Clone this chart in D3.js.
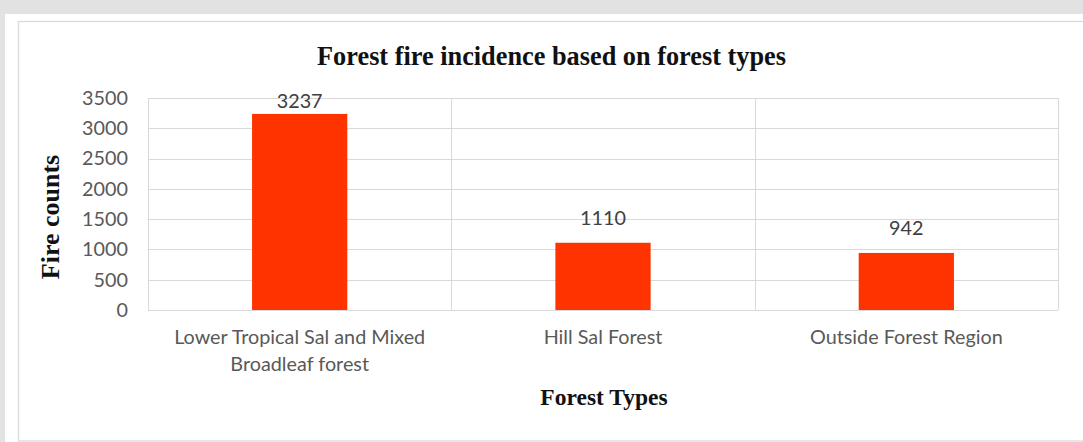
<!DOCTYPE html>
<html>
<head>
<meta charset="utf-8">
<script src="https://cdn.jsdelivr.net/npm/d3@7"></script>
<style>
  html, body { margin: 0; padding: 0; background: #e2e2e2; overflow: hidden; }
  svg { display: block; }
  .grid line { stroke: #d9d9d9; stroke-width: 1.3; shape-rendering: crispEdges; }
  .tick-label { font-family: Lato, "Open Sans", sans-serif; font-size: 19.8px; fill: #595959; }
  .value-label { font-family: Lato, "Open Sans", sans-serif; font-size: 19.8px; fill: #404040; }
  .ttl { font-family: "Liberation Serif", "Times New Roman", serif; font-weight: bold; fill: #111; }
</style>
</head>
<body>
<svg width="1083" height="442"></svg>
<script>
// data
var categories = ["Lower Tropical Sal and Mixed Broadleaf forest", "Hill Sal Forest", "Outside Forest Region"];
var fireCounts = [3237, 1110, 942];
var yTicks = [0, 500, 1000, 1500, 2000, 2500, 3000, 3500];

var chartTitle = "Forest fire incidence based on forest types";
var xTitle = "Forest Types";
var yTitle = "Fire counts";

var svg = d3.select("svg"),
    width = +svg.attr("width"),
    height = +svg.attr("height");

var plot = {left: 148, right: 1058, top: 98, bottom: 310};

// white sheet + chart area frame
svg.append("rect")
    .attr("x", 5).attr("y", 14)
    .attr("width", width).attr("height", height)
    .attr("fill", "#fff");
svg.append("rect")
    .attr("x", 18.5).attr("y", 21.5)
    .attr("width", 1070).attr("height", 419.5)
    .attr("fill", "none")
    .attr("stroke", "#d9d9d9")
    .attr("stroke-width", 1.3);

var x = d3.scaleBand()
    .domain(categories)
    .range([plot.left, plot.right])
    .padding(0);

var y = d3.scaleLinear()
    .domain([0, 3500])
    .range([plot.bottom, plot.top]);

var barW = x.bandwidth() * 0.314;

// gridlines
var grid = svg.append("g").attr("class", "grid");
grid.selectAll(".h")
    .data(yTicks)
  .enter().append("line")
    .attr("class", "h")
    .attr("x1", plot.left).attr("x2", plot.right)
    .attr("y1", function(d) { return Math.round(y(d)) + 0.5; })
    .attr("y2", function(d) { return Math.round(y(d)) + 0.5; });

var bounds = categories.map(function(c) { return x(c); }).concat([plot.right]);
grid.selectAll(".v")
    .data(bounds)
  .enter().append("line")
    .attr("class", "v")
    .attr("x1", function(d) { return Math.round(d) + 0.5; })
    .attr("x2", function(d) { return Math.round(d) + 0.5; })
    .attr("y1", plot.top).attr("y2", plot.bottom);

// y axis labels
var yAxis = d3.axisLeft(y).tickValues(yTicks).tickFormat(d3.format("d")).tickSize(0).tickPadding(20);
var yg = svg.append("g")
    .attr("transform", "translate(" + plot.left + ",0)")
    .call(yAxis);
yg.select(".domain").remove();
yg.selectAll("text").attr("class", "tick-label").attr("font-family", null).attr("font-size", null);

// bars
svg.selectAll(".bar")
    .data(fireCounts)
  .enter().append("rect")
    .attr("class", "bar")
    .attr("x", function(d, i) { return x(categories[i]) + (x.bandwidth() - barW) / 2; })
    .attr("y", function(d) { return y(d); })
    .attr("width", barW)
    .attr("height", function(d) { return y(0) - y(d); })
    .attr("fill", "#ff3300");

// value labels (kept from climbing far above the plot)
svg.selectAll(".value-label")
    .data(fireCounts)
  .enter().append("text")
    .attr("class", "value-label")
    .attr("text-anchor", "middle")
    .attr("x", function(d, i) { return x(categories[i]) + x.bandwidth() / 2; })
    .attr("y", function(d) { return Math.max(y(d) - 17.5, plot.top + 10); })
    .text(function(d) { return d; });

// x axis category labels, wrapped
var xg = svg.append("g")
    .attr("transform", "translate(0," + plot.bottom + ")")
    .call(d3.axisBottom(x).tickSize(0).tickPadding(0));
xg.select(".domain").remove();
xg.selectAll("text")
    .attr("class", "tick-label").attr("font-family", null).attr("font-size", null)
    .attr("y", 33.5).attr("dy", null)
    .call(wrap, x.bandwidth() * 0.92);

function wrap(sel, maxW) {
  sel.each(function() {
    var text = d3.select(this),
        words = text.text().split(/\s+/),
        line = [],
        yy = text.attr("y"),
        n = 0,
        tspan = text.text(null).append("tspan").attr("x", 0).attr("y", yy);
    words.forEach(function(w) {
      line.push(w);
      tspan.text(line.join(" "));
      if (tspan.node().getComputedTextLength() > maxW && line.length > 1) {
        line.pop();
        tspan.text(line.join(" "));
        line = [w];
        n++;
        tspan = text.append("tspan").attr("x", 0).attr("y", +yy + n * 27).text(w);
      }
    });
  });
}

// titles
svg.append("text")
    .attr("class", "ttl")
    .attr("x", 551.5).attr("y", 64.5)
    .attr("text-anchor", "middle")
    .style("font-size", "26.3px")
    .text(chartTitle);

svg.append("text")
    .attr("class", "ttl")
    .attr("x", 604).attr("y", 405)
    .attr("text-anchor", "middle")
    .style("font-size", "23.5px")
    .text(xTitle);

svg.append("text")
    .attr("class", "ttl")
    .attr("transform", "translate(58.5,217) rotate(-90)")
    .attr("text-anchor", "middle")
    .style("font-size", "26px")
    .text(yTitle);
</script>
</body>
</html>
